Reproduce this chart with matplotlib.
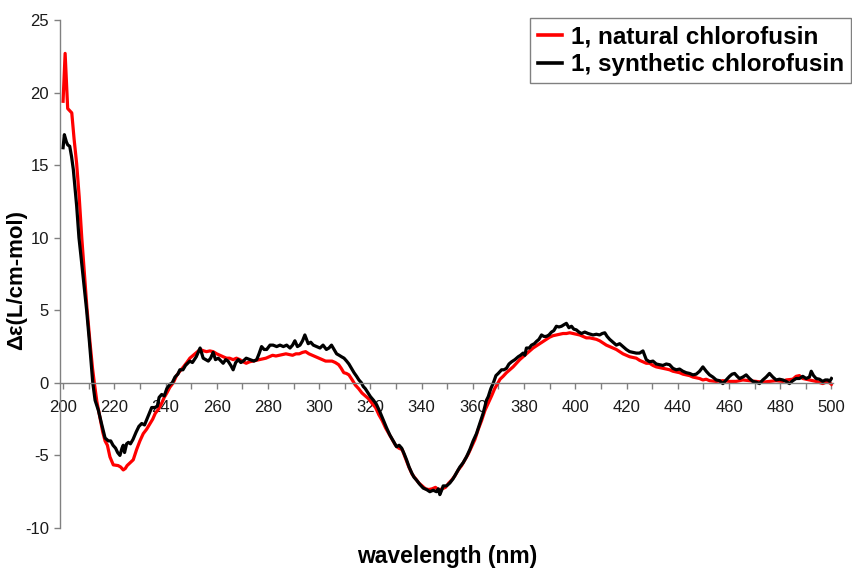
import matplotlib

matplotlib.use("Agg")
import matplotlib.pyplot as plt
from matplotlib.ticker import MultipleLocator

plt.rcParams["font.family"] = ["Liberation Sans", "DejaVu Sans"]
plt.rcParams["axes.unicode_minus"] = False

# natural chlorofusin (red)
wl_natural = [
    200, 200.8, 201.8, 203.4, 204.3, 205.3, 206.3, 207.3, 208.3, 209.3, 210.5, 211.5,
    212.2, 213.2, 214.5, 215.5, 216.4, 217.3, 218.3, 219.6, 221.5, 222.5, 223.5, 224.3,
    225, 226.2, 227.4, 228.7, 230, 231.3, 232.6, 234, 235, 236, 237.3, 238.5, 239.5,
    240.5, 241.7, 243, 244.3, 245.6, 247, 248.3, 249.5, 251.5, 253.5, 255, 256, 257.3,
    258.6, 260, 261.2, 262.5, 263.8, 265, 266.4, 267.7, 269, 270.3, 271.5, 272.8, 274.1,
    275.4, 276.6, 277.9, 279.2, 280.5, 281.8, 283.1, 284.4, 285.7, 287, 288.3, 289.6,
    290.9, 292.2, 293.5, 294.7, 296, 297.3, 298.6, 299.9, 301.2, 302.5, 303.8, 305,
    306.3, 307.6, 308.6, 309.6, 310.6, 311.6, 312.9, 314.1, 315.4, 316.7, 318, 319.3,
    320.6, 322, 323.3, 324.6, 325.9, 327.2, 328.5, 329.8, 331.1, 332.4, 333.7, 335,
    336.3, 337.6, 338.9, 340.2, 341.5, 342.8, 344.1, 345.4, 346.7, 348, 349.3, 350.6,
    351.7, 353, 354.3, 355.6, 356.9, 358.2, 359.5, 360.8, 362.1, 363.4, 364.7, 366,
    367.3, 368.5, 369.5, 370.6, 371.8, 373.1, 374.4, 375.7, 377, 378.3, 379.6, 380.9,
    382.2, 383.5, 384.8, 386.1, 387.4, 388.7, 390, 391.3, 392.6, 393.9, 395.2, 396.5,
    397.8, 399.1, 400.4, 401.7, 403, 404.3, 405.6, 406.9, 408.2, 409.5, 410.8, 412.1,
    413.4, 414.7, 416, 417.3, 418.6, 419.9, 421.2, 422.5, 423.8, 425.1, 426.4, 427.7,
    429, 430.3, 431.6, 433, 434.3, 435.6, 436.8, 438.1, 439.4, 440.7, 442, 443.3, 444.6,
    445.9, 447.2, 448.5, 449.8, 451.1, 452.4, 455, 457.6, 460.2, 462.8, 465.4, 468,
    470.6, 473.2, 475.8, 478.4, 481, 482.3, 484.9, 486.2, 487.5, 488.8, 491.4, 494,
    496.6, 498.6, 500,
]
de_natural = [
    19.4, 22.7, 18.9, 18.6, 16.8, 15.1, 12.8, 10.0, 7.6, 5.2, 2.8, 1.0,
    0.0, -1.3, -2.5, -3.4, -4.0, -4.3, -5.1, -5.65, -5.7, -5.8, -6.0, -5.9,
    -5.7, -5.5, -5.3, -4.6, -4.0, -3.5, -3.2, -2.8, -2.5, -2.1, -1.8, -1.4, -1.0,
    -0.7, -0.3, 0.0, 0.5, 0.8, 1.1, 1.4, 1.7, 2.0, 2.3, 2.2, 2.15, 2.2,
    2.15, 2.0, 1.9, 1.8, 1.7, 1.7, 1.6, 1.7, 1.6, 1.45, 1.35, 1.45, 1.5,
    1.55, 1.6, 1.65, 1.7, 1.8, 1.9, 1.85, 1.9, 1.95, 2.0, 1.95, 1.9,
    2.0, 2.0, 2.1, 2.15, 2.0, 1.9, 1.8, 1.7, 1.6, 1.5, 1.5, 1.5,
    1.4, 1.25, 1.0, 0.7, 0.65, 0.55, 0.2, -0.15, -0.4, -0.7, -0.9, -1.1,
    -1.4, -1.7, -2.2, -2.6, -3.1, -3.5, -3.9, -4.3, -4.5, -4.6, -5.2, -5.8,
    -6.3, -6.6, -6.9, -7.1, -7.3, -7.35, -7.3, -7.2, -7.4, -7.3, -7.2, -6.9,
    -6.7, -6.4, -6.0, -5.7, -5.3, -4.9, -4.4, -3.9, -3.2, -2.6, -1.9, -1.4,
    -0.9, -0.4, -0.1, 0.25, 0.45, 0.7, 0.9, 1.1, 1.35, 1.6, 1.8, 2.0,
    2.2, 2.4, 2.55, 2.7, 2.85, 3.0, 3.15, 3.25, 3.3, 3.35, 3.4, 3.4,
    3.45, 3.4, 3.35, 3.3, 3.2, 3.1, 3.1, 3.05, 3.0, 2.9, 2.75, 2.6,
    2.5, 2.4, 2.3, 2.15, 2.0, 1.9, 1.8, 1.75, 1.7, 1.55, 1.45, 1.35,
    1.35, 1.2, 1.1, 1.05, 1.0, 0.95, 0.9, 0.8, 0.75, 0.7, 0.6, 0.55, 0.5,
    0.4, 0.35, 0.3, 0.2, 0.25, 0.15, 0.1, 0.15, 0.1, 0.1, 0.2, 0.15,
    0.1, 0.05, 0.1, 0.15, 0.1, 0.2, 0.25, 0.45, 0.5, 0.3, 0.2, 0.1,
    -0.05, 0.1, -0.1,
]

# synthetic chlorofusin (black)
wl_synthetic = [
    200, 200.5, 201.3, 201.8, 202.6, 203.3, 204, 205.3, 206.2, 207, 208, 209.2, 210.3,
    211.6, 212.5, 213.8, 215, 216.4, 217.7, 218.6, 219.5, 220.5, 221.3, 222.2, 223,
    223.5, 224, 224.8, 225.5, 226.3, 227.3, 228.5, 229.6, 230.7, 231.8, 233.2, 234.6,
    235.8, 236.8, 237.5, 238.5, 239.5, 240.5, 241.7, 242.6, 243.7, 244.8, 245.6, 246.8,
    247.8, 249.5, 250.5, 252, 253.5, 254.7, 256.7, 257.6, 258.6, 259.5, 260.6, 262.5,
    263.5, 264.4, 265.5, 266.4, 267.4, 268.4, 269.4, 270.3, 271.5, 273, 274.5, 275.6,
    276.5, 277.5, 278.5, 279.5, 280.8, 282, 283.4, 284.7, 286, 287.3, 288.6, 289.6,
    290.5, 291.5, 292.5, 293.5, 294.4, 295.7, 296.7, 297.7, 299, 300.3, 301.5, 302.8,
    303.8, 304.8, 305.8, 306.8, 307.8, 308.7, 309.7, 310.7, 311.6, 312.6, 313.6, 314.6,
    315.5, 316.5, 317.2, 318, 319.1, 320, 321.2, 322.4, 323.7, 325, 326.3, 327.6,
    328.9, 330.2, 331.2, 332.2, 333.2, 334.1, 335.1, 336.1, 337, 338, 339.3, 340.6,
    341.9, 343.2, 344.5, 345.8, 346.5, 347.1, 347.8, 348.4, 349.7, 351, 352.3, 353.6,
    354.9, 356.2, 357.5, 358.8, 360.1, 361.4, 362.7, 364, 365.3, 366, 367, 368, 369,
    369.9, 371.2, 372.1, 373.1, 374.1, 375.1, 376.4, 377.7, 378.6, 379.6, 380.3, 380.9,
    382, 382.9, 384, 384.8, 385.8, 386.8, 387.7, 388.7, 389.7, 390.7, 391.6, 392.6,
    393.6, 394.6, 395.5, 396.5, 397.5, 398.5, 399.4, 400.4, 401.4, 402.4, 403.7, 405,
    406, 406.9, 408.2, 409.5, 410.5, 411.5, 412.4, 413.4, 414.7, 416, 417.3, 418.6,
    419.9, 421.2, 422.5, 423.8, 425.1, 426.4, 427.7, 429, 430.3, 431.6, 432.9, 434.2,
    435.5, 436.8, 438.1, 439.4, 440.7, 442, 443.3, 444.6, 445.9, 447.2, 448.5, 449.8,
    451.1, 452.4, 453.7, 455, 456.3, 457.6, 458.9, 460.2, 461.2, 462.2, 463.2, 464.1,
    465.4, 466.7, 468, 469.3, 470.6, 471.9, 473.2, 474.5, 475.8, 477.1, 478.4, 479.7,
    481, 482.3, 483.6, 484.9, 486.2, 487.5, 488.8, 490.1, 491.4, 492.1, 493, 494,
    495.3, 496.6, 497.6, 498.6, 499.3, 500,
]
de_synthetic = [
    16.2, 17.1, 16.6, 16.4, 16.3, 15.6, 14.7, 12.2, 10.0, 8.7, 7.0, 5.0, 2.8,
    0.0, -1.2, -1.9, -2.8, -3.8, -4.0, -4.0, -4.3, -4.5, -4.8, -5.0, -4.5,
    -4.3, -4.8, -4.2, -4.1, -4.2, -3.9, -3.4, -3.0, -2.8, -2.9, -2.3, -1.7,
    -1.7, -1.6, -1.0, -0.8, -0.9, -0.4, -0.1, 0.0, 0.4, 0.6, 0.9, 0.9,
    1.2, 1.5, 1.4, 1.8, 2.4, 1.7, 1.5, 1.7, 2.1, 1.6, 1.7, 1.35,
    1.6, 1.5, 1.2, 0.9, 1.4, 1.6, 1.4, 1.5, 1.7, 1.6, 1.5, 1.6,
    2.0, 2.5, 2.3, 2.3, 2.6, 2.6, 2.5, 2.6, 2.5, 2.6, 2.4, 2.6,
    2.9, 2.5, 2.6, 2.9, 3.3, 2.7, 2.8, 2.6, 2.5, 2.4, 2.6, 2.3,
    2.4, 2.6, 2.3, 2.0, 1.9, 1.8, 1.7, 1.5, 1.3, 1.0, 0.7, 0.45,
    0.2, 0.0, -0.25, -0.4, -0.7, -0.95, -1.2, -1.5, -2.0, -2.55, -3.1, -3.6,
    -4.0, -4.4, -4.3, -4.5, -4.9, -5.3, -5.8, -6.2, -6.5, -6.7, -7.0, -7.25,
    -7.35, -7.5, -7.4, -7.5, -7.3, -7.7, -7.4, -7.1, -7.1, -6.9, -6.6, -6.2,
    -5.8, -5.5, -5.1, -4.6, -4.0, -3.5, -2.8, -2.1, -1.2, -0.95, -0.4, 0.0, 0.5,
    0.65, 0.9, 0.9, 1.0, 1.3, 1.45, 1.6, 1.8, 1.9, 2.05, 1.9, 2.4,
    2.4, 2.6, 2.7, 2.85, 3.0, 3.3, 3.2, 3.2, 3.3, 3.5, 3.6, 3.9,
    3.85, 3.9, 4.0, 4.1, 3.8, 3.9, 3.7, 3.65, 3.5, 3.4, 3.5, 3.4,
    3.35, 3.3, 3.35, 3.3, 3.4, 3.45, 3.2, 3.0, 2.8, 2.6, 2.7, 2.5,
    2.3, 2.15, 2.1, 2.05, 2.05, 2.2, 1.6, 1.45, 1.5, 1.3, 1.25, 1.2,
    1.3, 1.25, 1.0, 0.9, 0.95, 0.8, 0.7, 0.65, 0.55, 0.6, 0.8, 1.1,
    0.8, 0.55, 0.4, 0.2, 0.15, -0.05, 0.2, 0.45, 0.6, 0.65, 0.45, 0.3,
    0.4, 0.55, 0.3, 0.1, 0.05, -0.05, 0.2, 0.4, 0.65, 0.4, 0.2, 0.25,
    0.2, 0.1, -0.05, 0.15, 0.3, 0.3, 0.45, 0.3, 0.4, 0.8, 0.5, 0.3,
    0.25, 0.1, 0.2, 0.2, 0.1, 0.3,
]

series_labels = ["1, natural chlorofusin", "1, synthetic chlorofusin"]
x_ticks = list(range(200, 501, 20))
y_ticks = [-10, -5, 0, 5, 10, 15, 20, 25]

fig = plt.figure(figsize=(8.52, 5.76), dpi=100)
ax = fig.add_axes([60 / 852, 48 / 576, 773 / 852, 508 / 576])

ax.plot(wl_natural, de_natural, color="#ff0000", lw=2.3, label=series_labels[0])
ax.plot(wl_synthetic, de_synthetic, color="black", lw=2.3, label=series_labels[1])

ax.set_xlim(198.8, 500.6)
ax.set_ylim(-10, 25)

ax.spines["top"].set_visible(False)
ax.spines["right"].set_visible(False)
ax.spines["bottom"].set_position(("data", 0))
for s in ("left", "bottom"):
    ax.spines[s].set_color("#808080")
    ax.spines[s].set_linewidth(1.0)

ax.set_xticks(x_ticks)
ax.xaxis.set_minor_locator(MultipleLocator(10))
ax.set_yticks(y_ticks)
ax.tick_params(axis="x", which="both", direction="out", length=4, width=1,
               color="#808080", labelsize=12, pad=8)
ax.tick_params(axis="y", direction="out", length=4, width=1,
               color="#808080", labelsize=12, pad=4)
for lbl in ax.get_xticklabels() + ax.get_yticklabels():
    lbl.set_color("#1a1a1a")

fig.text(447 / 852, 1 - 557 / 576, "wavelength (nm)", ha="center", va="center",
         fontsize=16.5, fontweight="bold")
fig.text(17 / 852, 1 - 280 / 576, "Δε(L/cm-mol)", ha="center", va="center",
         rotation=90, fontsize=16, fontweight="bold")

leg = ax.legend(loc="upper right", bbox_to_anchor=(851 / 852, 1 - 18 / 576),
                bbox_transform=fig.transFigure, borderaxespad=0, fancybox=False,
                frameon=True, handlelength=1.0, handletextpad=0.35,
                borderpad=0.3, labelspacing=0.2, prop={"size": 17.5, "weight": "bold"})
leg.get_frame().set_edgecolor("#606060")
leg.get_frame().set_linewidth(1.0)
for h in leg.get_lines():
    h.set_linewidth(2.6)

fig.savefig("out.png", dpi=100)
